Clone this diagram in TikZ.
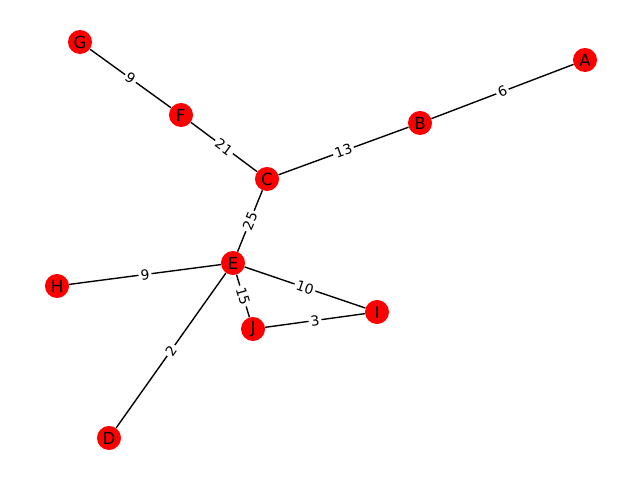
\documentclass[tikz,border=0pt]{standalone}
\usepackage{fontspec}
\setmainfont{DejaVu Sans}
\begin{document}
\begin{tikzpicture}[x=0.01in, y=-0.01in,
    vertex/.style={draw=none, fill=red, shape=circle, minimum size=0.24in, inner sep=0pt, font=\fontsize{12}{14}\selectfont},
    weight/.style={fill=white, inner sep=1.5pt, rounded corners=2pt, font=\fontsize{10}{12}\selectfont, sloped, midway}]
    \useasboundingbox (0,0) rectangle (640,480);
    \node(A)[vertex] at (585, 60) {A};
    \node(B)[vertex] at (420, 123) {B};
    \node(C)[vertex] at (267, 179) {C};
    \node(F)[vertex] at (181, 115) {F};
    \node(G)[vertex] at (80, 42) {G};
    \node(E)[vertex] at (233, 263) {E};
    \node(H)[vertex] at (57, 286) {H};
    \node(I)[vertex] at (377, 312) {I};
    \node(J)[vertex] at (253, 329) {J};
    \node(D)[vertex] at (109, 438) {D};
    \draw[line width=1pt] (G) -- (F) node[weight] {9};
    \draw[line width=1pt] (F) -- (C) node[weight] {21};
    \draw[line width=1pt] (C) -- (B) node[weight] {13};
    \draw[line width=1pt] (B) -- (A) node[weight] {6};
    \draw[line width=1pt] (C) -- (E) node[weight] {25};
    \draw[line width=1pt] (E) -- (H) node[weight] {9};
    \draw[line width=1pt] (E) -- (I) node[weight] {10};
    \draw[line width=1pt] (E) -- (J) node[weight] {15};
    \draw[line width=1pt] (J) -- (I) node[weight] {3};
    \draw[line width=1pt] (E) -- (D) node[weight] {2};
\end{tikzpicture}
\end{document}
